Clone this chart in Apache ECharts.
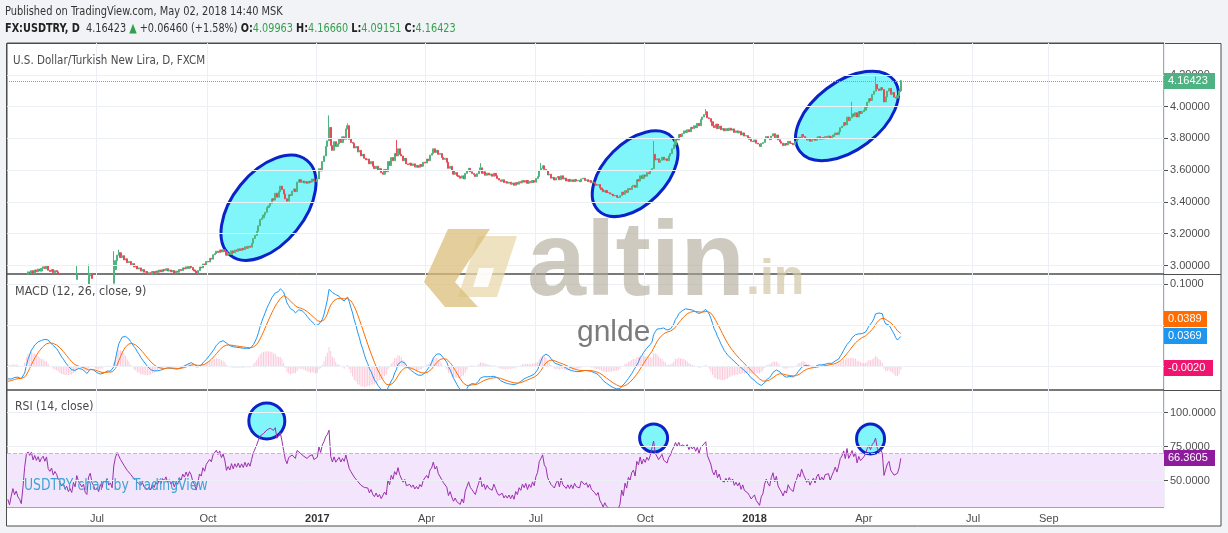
<!DOCTYPE html>
<html><head><meta charset="utf-8">
<script src="https://cdn.jsdelivr.net/npm/echarts@6.0.0/dist/echarts.min.js"></script>
<style>html,body{margin:0;padding:0;background:#f1f3f6;overflow:hidden}#c{width:1228px;height:533px}</style>
</head><body><div id="c"></div><script>
// ---------------- DATA (closes in thousandths of a lira) ----------------
// warm-up closes (Mar 1 – Apr 18 2016), used only so the indicators are settled at the left edge
const WARMUP = [2960,2945,2935,2925,2915,2935,2930,2915,2905,2900,2905,2915,2900,2880,2875,2870,2880,2875,2865,2855,2850,2835,2825,
  2830,2835,2845,2850,2855,2860,2855,2845,2850,2840,2855,2845];
const FIRST_DATE = '2016-04-19';
const CLOSES_2016 = [
  2840,2826,2838,2850,2836,2842,2828,2822,2810,
  2838,2890,2945,2960,2952, 2968,2950,2972,2960,2978, 2965,2982,2992,2980,3000, 2970,2962,2975,2955,2968, 2960,2945,
  2935,2925,2932, 2915,2922,2905,2912,2900, 2925,2912,2945,2928,2932, 2910,2918,2890,2882,2935, 2950,2918,2905,2888,
  2895, 2880,2902,2890,2915,2908, 2920,2898,2905,2888,2975, 3030,3065,3080,3050,3062, 3035,3042,3018,3025,3005,
  3012,2990,2998,2978,2985, 2965,2975,2958,2962,2948, 2955,2945,2962,2950,2965, 2958,2972,2960,2975,2968, 2980,2965,2972,
  2960,2968, 2952,2965,2958,2975,2968, 2985,2978,2992,2982,2995, 2988,2972,2965,2950,2968, 2990,2985,3010,3002,3025,
  3022,3045,3040,3068,3075, 3090,3082,3098,3085,3100, 3088,3065,3078,3070,3092, 3080,3098,3090,3105,3095, 3108,
  3100,3118,3108,3122, 3115,3140,3170,3190,3215, 3250,3290,3300,3318,3335, 3365,3375,3392,3420,3412, 3455,3430,3465,
  3500,3478, 3450,3420,3405,3445,3440, 3468,3482,3465,3525,3540, 3525,3532,3520,3528,3518, 3530,3525,3545,3532,3530];
const CLOSES_2017 = [
  3545,3610,3595,3655,3690, 3750,3785,3870,3755,3725, 3780,3750,3765,3800,3775, 3810,3795,3860,3880,3795, 3775,3770,
  3740,3750,3715, 3725,3690,3700,3675,3665, 3670,3640,3655,3625,3610, 3625,3600,3610,3585,3575, 3605,3590,
  3655,3630,3680, 3660,3705,3690,3735,3700, 3690,3660,3675,3640,3635, 3645,3630,3640,3620,3630, 3618,3635,3625,3650,3645,
  3670,3660,3695,3705,3735, 3712,3725,3700,3705,3680, 3668,3675,3650,3612,3625, 3598,3575,3585,3565,3560,
  3550,3565,3545,3580,3595, 3612,3590,3580,3572,3560, 3578,3595,3615,3580,3590, 3568,3582,3570,3575,3562, 3580,3565,3548,
  3538,3530, 3540,3522,3528,3518,3525, 3512,3520,3505,3522,3512, 3528,3520,3535,3525,3535, 3518,3530,3522,3535,3525,
  3548,3560,3598,3612,3628, 3605,3598,3570,3575,3550, 3555,3538,3552,3560,3540, 3565,3545,3550,3532,3542, 3530,
  3540,3528,3542,3532, 3536,3528,3545,3550,3535, 3540,3528,3535,3522,3525, 3512,3505,3510,3488,3478, 3465,3472,3460,3458,
  3450, 3448,3438,3442,3430,3428, 3440,3462,3448,3472,3460, 3485,3478,3498,3505,3492, 3540,3532,3565,3548,3570,
  3562,3585,3578,3600,3610, 3700,3665,3672,3650,3662, 3682,3665,3672,3660,3690, 3705,3735,3760,3800,3790, 3825,3812,
  3830,3848,3838, 3855,3842,3870,3862,3880, 3868,3895,3880,3920,3935, 3950,3968,3930,3925,3905, 3880,3868,3890,3862,
  3878, 3855,3862,3848,3862,3850, 3865,3852,3860,3838,3848, 3835,3845,3822,3835,3815, 3818,3805,3795,3782,3780];
const CLOSES_2018 = [
  3790,3770,3765,3750,3768, 3775,3798,3812,3800,3792, 3815,3830,3805,3822,3792, 3780,3770,3755,3768,3760, 3782,3770,3768,
  3760,3780, 3792,3808,3800,3825,3812, 3802,3790,3798,3782,3792, 3800,3788,3805,3812,3795, 3805,3798,3812,
  3808,3815, 3800,3812,3822,3835,3825, 3842,3868,3878,3900,3885, 3935,3912,3930,3955,3940, 3962,3935,3970,3958,3968,
  3978,3995,4028,4050,4040, 4078,4098,4140,4112,4102, 4120,4108,4030,4062,4098, 4115,4078,4090,4060,4055, 4070,
  4099.63, 4164.23];
// notable wicks: [date, high, low]
const WICKS = [['2016-06-15',3.002,null],['2016-06-24',3.006,null],['2016-07-15',3.09,null],['2016-07-20',3.10,null],
  ['2017-01-11',3.945,null],['2017-01-26',3.895,null],['2017-03-08',3.79,null],['2017-05-17',3.645,null],
  ['2017-07-06',3.645,null],['2017-10-09',3.785,3.65],['2017-11-21',3.985,null],['2018-03-22',4.03,null],['2018-04-11',4.19,null]];
const LAST_BAR = {open:4.09963, high:4.16660, low:4.09151, close:4.16423};
const LAST_VALUES = {macd:0.0369, signal:0.0389, hist:-0.0020, rsi:66.3605};
const SLOT_COUNT = 688;
const QUARTER_TICKS = [['2016-07-01','Jul'],['2016-10-03','Oct'],['2017-01-02','2017'],['2017-04-03','Apr'],['2017-07-03','Jul'],
  ['2017-10-02','Oct'],['2018-01-01','2018'],['2018-04-02','Apr'],['2018-07-02','Jul'],['2018-09-03','Sep']];
const PRICE_TICKS = [3.0,3.2,3.4,3.6,3.8,4.0,4.2];
const MACD_TICKS = [0.1];
const MACD_GRID = [0.1,0.05,0];
const RSI_TICKS = [100,75,50];
// annotations: [date, value, rx, ry, tiltDeg]
const PRICE_ELLIPSES = [['2016-11-22',3.364,61,36,51],['2017-09-22',3.578,52,31,45],['2018-03-19',3.942,59,34,37]];
const RSI_ELLIPSES = [['2016-11-21',93.9,18,18,0],['2017-10-09',81.4,14,14,0],['2018-04-06',80.7,14,15,0]];

// ---------------- BUILD ----------------
const TV_FONT = "'Liberation Sans Narrow','DejaVu Sans Condensed','Roboto Condensed',Roboto,sans-serif";
const AX_FONT = "'Liberation Sans',Arial,sans-serif";
function weekdays(start, n){const out=[];const d=new Date(start+'T00:00:00Z');
  while(out.length<n){const w=d.getUTCDay(); if(w!==0&&w!==6) out.push(d.toISOString().slice(0,10)); d.setUTCDate(d.getUTCDate()+1);} return out;}
const dates = weekdays(FIRST_DATE, SLOT_COUNT);
const idxOf = {}; dates.forEach((d,i)=>idxOf[d]=i);
const visible = CLOSES_2016.concat(CLOSES_2017, CLOSES_2018).map(v=>v/1000);
const all = WARMUP.map(v=>v/1000).concat(visible);
const off = WARMUP.length;
function ema(src,n){const a=2/(n+1);const o=[];let p=src[0];for(let i=0;i<src.length;i++){p=i===0?src[0]:a*src[i]+(1-a)*p;o.push(p);}return o;}
function rsiCalc(src,n){const o=[null];let up=0,dn=0;for(let i=1;i<src.length;i++){const ch=src[i]-src[i-1];const u=Math.max(ch,0),d=Math.max(-ch,0);
  if(i<=n){up+=u/n;dn+=d/n;o.push(i===n?100-100/(1+up/dn):null);}else{up=(up*(n-1)+u)/n;dn=(dn*(n-1)+d)/n;o.push(dn===0?100:100-100/(1+up/dn));}}return o;}
const e12=ema(all,12), e26=ema(all,26);
const macdAll=all.map((v,i)=>e12[i]-e26[i]);
const sigAll=ema(macdAll,9);
const rsiAll=rsiCalc(all,14);
const macd=macdAll.slice(off), signal=sigAll.slice(off), hist=macd.map((v,i)=>v-signal[i]), rsi=rsiAll.slice(off);
const wickMap={}; WICKS.forEach(w=>wickMap[w[0]]=w);
const candles = visible.map((c,i)=>{
  const o=all[off+i-1]; let hi=Math.max(o,c), lo=Math.min(o,c);
  const w=wickMap[dates[i]]; if(w){ if(w[1]!=null) hi=Math.max(hi,w[1]); if(w[2]!=null) lo=Math.min(lo,w[2]); }
  return [o,c,lo,hi];});
const L=candles.length-1; candles[L]=[LAST_BAR.open,LAST_BAR.close,LAST_BAR.low,LAST_BAR.high];
const tickMap={}; QUARTER_TICKS.forEach(t=>tickMap[t[0]]=t[1]);

const GL='#4d4d4d', SPLIT='#eceff3';
const grids=[{left:7,top:43,width:1157,height:231},{left:7,top:274,width:1157,height:116},{left:7,top:390,width:1157,height:117}];
function xAx(g){return {type:'category',gridIndex:g,data:dates,boundaryGap:true,
  axisLine:{show:false},axisTick:{show:false},
  axisLabel:{show:g===2,interval:(i,v)=>tickMap[v]!==undefined,margin:6,color:'#4a4a4a',fontSize:11,fontFamily:AX_FONT,
    formatter:v=>{const t=tickMap[v]; return /^\d{4}$/.test(t)?'{y|'+t+'}':t;}, rich:{y:{fontWeight:'bold',color:'#333',fontSize:11,fontFamily:AX_FONT}}},
  splitLine:{show:true,interval:(i,v)=>tickMap[v]!==undefined,lineStyle:{color:SPLIT,width:1}}};}
function yAx(g,min,max,ticks,fmt){return {type:'value',gridIndex:g,position:'right',min,max,
  axisLine:{show:false},splitLine:{show:false},
  axisTick:{show:true,customValues:ticks,length:4,lineStyle:{color:GL}},
  axisLabel:{customValues:ticks,formatter:fmt,color:'#4f4f4f',fontSize:11,fontFamily:AX_FONT,margin:6}};}
function gridLines(vals){return {silent:true,symbol:['none','none'],label:{show:false},lineStyle:{color:SPLIT,type:'solid',width:1},data:vals.map(v=>({yAxis:v}))};}

const option={
  animation:false,backgroundColor:'#f1f3f6',
  grid:grids.map(g=>Object.assign({show:true,borderColor:GL,borderWidth:1,backgroundColor:'transparent'},g)),
  xAxis:[xAx(0),xAx(1),xAx(2)],
  yAxis:[yAx(0,2.9465,4.4011,PRICE_TICKS,v=>v.toFixed(5)),yAx(1,-0.0282,0.1121,MACD_TICKS,v=>v.toFixed(4)),yAx(2,30.66,116.69,RSI_TICKS,v=>v.toFixed(4))],
  series:[
    {type:'line',xAxisIndex:0,yAxisIndex:0,z:0,data:[],markLine:gridLines(PRICE_TICKS)},
    {type:'candlestick',xAxisIndex:0,yAxisIndex:0,z:3,barWidth:1.6,data:candles,
      itemStyle:{color:'#4fb57f',color0:'#e84a57',borderColor:'#4fb57f',borderColor0:'#e84a57',borderWidth:1},
      markLine:{silent:true,symbol:['none','none'],label:{show:false},lineStyle:{color:'#5fb79a',type:'dotted',width:1},data:[{yAxis:LAST_BAR.close}]}},
    {type:'line',xAxisIndex:1,yAxisIndex:1,z:0,data:[],markLine:gridLines(MACD_GRID)},
    {type:'bar',xAxisIndex:1,yAxisIndex:1,z:3,barWidth:1,data:hist,itemStyle:{color:'rgba(240,40,110,0.25)'}},
    {type:'line',xAxisIndex:1,yAxisIndex:1,z:4,data:macd,symbol:'none',lineStyle:{color:'#2196f3',width:1}},
    {type:'line',xAxisIndex:1,yAxisIndex:1,z:4,data:signal,symbol:'none',lineStyle:{color:'#ff6d00',width:1}},
    {type:'line',xAxisIndex:2,yAxisIndex:2,z:0,data:[],
      markArea:{silent:true,itemStyle:{color:'#f3e5fc'},data:[[{yAxis:30},{yAxis:70}]]},
      markLine:{silent:true,symbol:['none','none'],label:{show:false},data:[
        ...RSI_TICKS.map(v=>({yAxis:v,lineStyle:{color:SPLIT,type:'solid',width:1}})),
        {yAxis:70,lineStyle:{color:'#c9b6d2',type:'dashed',width:1}}]}},
    {type:'line',xAxisIndex:2,yAxisIndex:2,z:4,data:rsi,symbol:'none',lineStyle:{color:'#9b2fae',width:1}}
  ]
};
const chart=echarts.init(document.getElementById('c'),null,{renderer:'canvas',width:1228,height:533});
chart.setOption(option);

function px(g,date,val){return chart.convertToPixel({xAxisIndex:g,yAxisIndex:g},[idxOf[date],val]);}
function py(g,val){return chart.convertToPixel({yAxisIndex:g},val);}
const gr=[];
gr.push({type:'rect',z:-10,shape:{x:6.5,y:43.5,width:1214.5,height:482.5},style:{fill:'#ffffff',stroke:GL,lineWidth:1}});
gr.push({type:'line',z:20,shape:{x1:1164,y1:274.5,x2:1221,y2:274.5},style:{stroke:GL,lineWidth:1}});
gr.push({type:'line',z:20,shape:{x1:1164,y1:390.5,x2:1221,y2:390.5},style:{stroke:GL,lineWidth:1}});
// texts (scaleX narrows the fallback font to the original's letter widths)
function txt(x,y,text,fill,size,sx,extra){gr.push({type:'text',x,y,z:20,scaleX:sx,style:Object.assign({text,fill,font:size+'px '+TV_FONT,verticalAlign:'middle'},extra||{})});}
txt(5,12,'Published on TradingView.com, May 02, 2018 14:40 MSK','#333',13,0.842);
txt(5,29,'{b|FX:USDTRY, D}  {n|4.16423} {g|▲} {n|+0.06460 (+1.58%)} {b|O:}{g|4.09963} {b|H:}{g|4.16660} {b|L:}{g|4.09151} {b|C:}{g|4.16423}','#333',13,0.83,
  {rich:{b:{fill:'#222',font:'bold 13px '+TV_FONT},n:{fill:'#333',font:'13px '+TV_FONT},g:{fill:'#33a14c',font:'13px '+TV_FONT}}});
txt(13,61,'U.S. Dollar/Turkish New Lira, D, FXCM','#4a4a4a',13,0.885);
txt(15,292,'MACD (12, 26, close, 9)','#4a4a4a',13,0.956);
txt(15,407,'RSI (14, close)','#4a4a4a',13,0.93);
txt(24,486,'USDTRY chart by TradingView','#3fa3d6',15,0.92);
// annotations
function ell(g,e){const p=px(g,e[0],e[1]);return {type:'ellipse',z:1,x:p[0],y:p[1],rotation:e[4]*Math.PI/180,shape:{cx:0,cy:0,rx:e[2],ry:e[3]},style:{fill:'#80f6fb',stroke:'#0b22c9',lineWidth:3}};}
PRICE_ELLIPSES.forEach(e=>gr.push(ell(0,e)));
RSI_ELLIPSES.forEach(e=>gr.push(ell(2,e)));
// watermark (altin.in logo)
gr.push({type:'polygon',z:29,shape:{points:[[478,236],[517,236],[497,297],[458,297]]},style:{fill:'rgba(233,216,172,0.75)'}});
gr.push({type:'polygon',z:31,shape:{points:[[479,268],[494,268],[488,287],[473,287]]},style:{fill:'rgba(255,255,255,0.9)'}});
gr.push({type:'polygon',z:30,shape:{points:[[448,229],[490,229],[455,282],[478,307],[445,307],[424,282]]},style:{fill:'rgba(219,190,122,0.75)'}});
gr.push({type:'text',z:30,x:527,y:266,style:{text:'altin',fill:'rgba(175,166,148,0.6)',font:'bold 106px '+AX_FONT,verticalAlign:'middle'}});
gr.push({type:'text',z:30,x:746,y:280,style:{text:'.in',fill:'rgba(210,198,165,0.7)',font:'bold 50px '+AX_FONT,verticalAlign:'middle'}});
gr.push({type:'text',z:30,x:577,y:333,style:{text:'gnlde',fill:'rgba(100,100,100,0.85)',font:'30px '+AX_FONT,verticalAlign:'middle'}});
// badges
function badge(yc,text,bg,w){gr.push({type:'rect',z:40,shape:{x:1164,y:Math.round(yc)-8,width:w,height:16},style:{fill:bg}});
  gr.push({type:'text',z:41,x:1168,y:Math.round(yc),style:{text,fill:'#fff',font:'11px '+AX_FONT,verticalAlign:'middle'}});}
badge(py(0,LAST_BAR.close),LAST_BAR.close.toFixed(5),'#4fb283',51);
const yBlue=py(1,LAST_VALUES.macd);
badge(yBlue-17,LAST_VALUES.signal.toFixed(4),'#ff6d00',43);
badge(yBlue,LAST_VALUES.macd.toFixed(4),'#1e96f0',43);
badge(py(1,LAST_VALUES.hist),LAST_VALUES.hist.toFixed(4),'#f0146e',49);
badge(py(2,LAST_VALUES.rsi),LAST_VALUES.rsi.toFixed(4),'#8e1a9c',51);
chart.setOption({graphic:{elements:gr}});
</script></body></html>
